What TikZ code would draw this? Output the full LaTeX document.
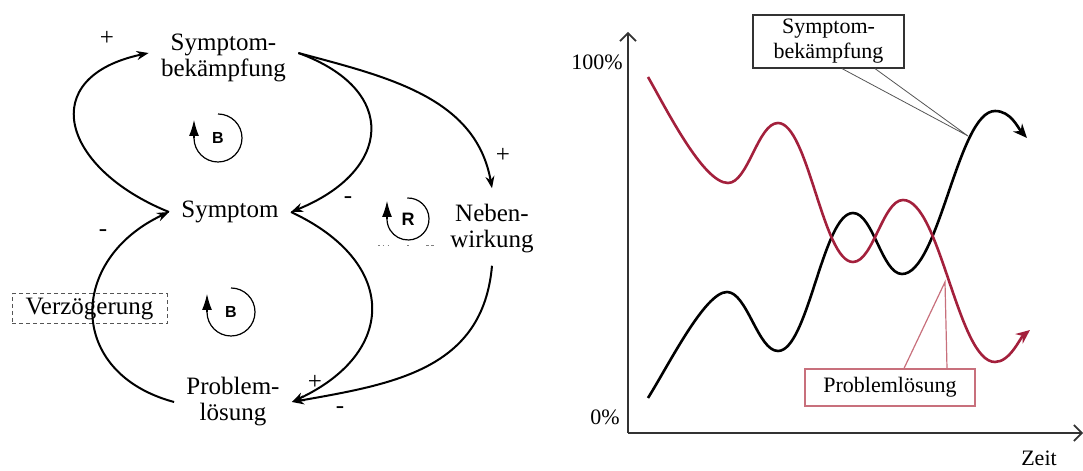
\documentclass[tikz,border=0pt]{standalone}
\usepackage{fontspec}
\setmainfont{Liberation Serif}
\setsansfont{Liberation Sans}
\usepackage{tikz}
\usetikzlibrary{arrows.meta, positioning, calc}
\definecolor{curvered}{HTML}{A3203C}
\definecolor{boxred}{HTML}{C8707C}
\definecolor{midgray}{HTML}{555555}

\begin{document}
\begin{tikzpicture}[x=0.5pt, y=0.5pt,
    var/.style={font=\fontsize{12.5}{13}\selectfont, align=center, inner xsep=6pt, inner ysep=2pt},
    sgn/.style={font=\fontsize{12.5}{13}\selectfont, inner sep=0pt},
    lnk/.style={line width=1pt, -{Stealth[length=6pt, width=4.5pt]}},
    lp/.style={font=\sffamily\bfseries\fontsize{8}{8}\selectfont, inner sep=0pt},
    lparc/.style={line width=0.6pt},
    lptip/.style={line width=0.6pt, -{Latex[length=8pt, width=5pt]}},
    ax/.style={black!80, line width=0.8pt, -{Straight Barb[length=4pt, width=8pt]}},
    cht/.style={font=\fontsize{11}{12.5}\selectfont, align=center, inner sep=0pt},
    crv/.style={line width=1.3pt, -{Stealth[length=7pt, width=6pt]}}]
    \useasboundingbox (0,0) rectangle (1083,471);

    % causal loop diagram
    \node[draw=midgray, dashed, dash pattern=on 2pt off 1.5pt, line width=0.5pt,
          font=\fontsize{12.5}{13}\selectfont, minimum width=77.5pt, minimum height=15pt,
          inner sep=0pt] (vz) at (89.5,162) {Verzögerung};
    \node[var] (sb) at (223.5,413) {Symptom-\\bekämpfung};
    \node[var] (sy) at (230,259) {Symptom};
    \node[var] (pl) at (233,69) {Problem-\\lösung};
    \node[var] (nw) at (492,242) {Neben-\\wirkung};

    \draw[lnk] (sy.west) to[out=158, in=192, looseness=1.85] ([yshift=2.5pt]sb.west);
    \draw[lnk] ([yshift=2.5pt]sb.east) to[out=-20, in=22, looseness=1.74] (sy.east);
    \draw[lnk] (sy.east) to[out=-25, in=25, looseness=1.58] (pl.east);
    \draw[lnk] (pl.west) to[out=165, in=205, looseness=1.5] (sy.west);
    \draw[lnk] ([yshift=2.5pt]sb.east) to[out=-15, in=100] ([yshift=6pt]nw.north);
    \draw[lnk] ([yshift=-4pt]nw.south) to[out=-95, in=10, looseness=1.1] (pl.east);

    \node[sgn] (s1) at (107,433) {+};
    \node[sgn] (s2) at (103,238) {-};
    \node[sgn] (s3) at (503,316) {+};
    \node[sgn] (s4) at (348,271) {-};
    \node[sgn] (s5) at (315,89) {+};
    \node[sgn] (s6) at (340,61) {-};

    % loop markers
    \node[lp] (lb1) at (218,333) {B};
    \draw[lparc] ([shift={(90:24)}]lb1.center) arc[start angle=90, end angle=-180, radius=24];
    \draw[lptip] ([shift={(180:24)}]lb1.center) -- ++(0,18);
    \node[lp] (lb2) at (231,159) {B};
    \draw[lparc] ([shift={(90:24)}]lb2.center) arc[start angle=90, end angle=-180, radius=24];
    \draw[lptip] ([shift={(180:24)}]lb2.center) -- ++(0,18);
    \node[lp, font=\sffamily\bfseries\fontsize{9}{9}\selectfont] (lr) at (408,252) {R};
    \draw[lparc] ([shift={(92:21)}]lr.center) arc[start angle=92, end angle=-180, radius=21];
    \draw[lptip] ([shift={(180:21)}]lr.center) -- ++(0,18);
    \draw[gray, line width=0.5pt, dash pattern=on 0.8pt off 1.6pt on 0.8pt off 1.6pt on 0.8pt off 9pt on 1pt off 8.5pt on 1.5pt] (378,225) -- (434,225);

    % time chart
    \coordinate (o) at (628,38);
    \draw[ax] (o) -- (628,439);
    \draw[ax] (o) -- (1083,38);
    \node[cht] (y100) at (597,409) {100\%};
    \node[cht] (y0) at (605,54) {0\%};
    \node[cht] (zt) at (1039,13) {Zeit};

    \draw[crv] (648,73) .. controls +(58:40) and +(-22,0) .. (727,179)
        .. controls +(20,0) and +(-20,0) .. (778,120)
        .. controls +(30,0) and +(-30,0) .. (853,258)
        .. controls +(20,0) and +(-20,0) .. (902,197)
        .. controls +(37,0) and +(-37,0) .. (995,360)
        .. controls +(16,0) and +(-9,10) .. (1027,333);
    \draw[crv, curvered] (648,394) .. controls +(-60:35) and +(-25,0) .. (728,288)
        .. controls +(20,0) and +(-20,0) .. (778,348)
        .. controls +(30,0) and +(-30,0) .. (853,209)
        .. controls +(20,0) and +(-20,0) .. (903,271)
        .. controls +(37,0) and +(-37,0) .. (995,109)
        .. controls +(15,0) and +(-10,-8) .. (1030,141);

    \node[cht, draw=black!80, line width=0.6pt, minimum width=75.5pt, minimum height=26.5pt] (cb) at (828.5,429.5) {Symptom-\\bekämpfung};
    \node[cht, draw=boxred, line width=0.6pt, minimum width=85pt, minimum height=18.5pt] (pb) at (890,83.5) {Problemlösung};
    \coordinate (cbpt) at (968,335);
    \coordinate (pbpt) at (945,189);
    \draw[midgray, line width=0.4pt] ([xshift=6.75pt]cb.south) -- (cbpt) -- ([xshift=23.25pt]cb.south);
    \draw[boxred, line width=0.6pt] ([xshift=7pt]pb.north) -- (pbpt) -- ([xshift=28.5pt]pb.north);
\end{tikzpicture}
\end{document}
